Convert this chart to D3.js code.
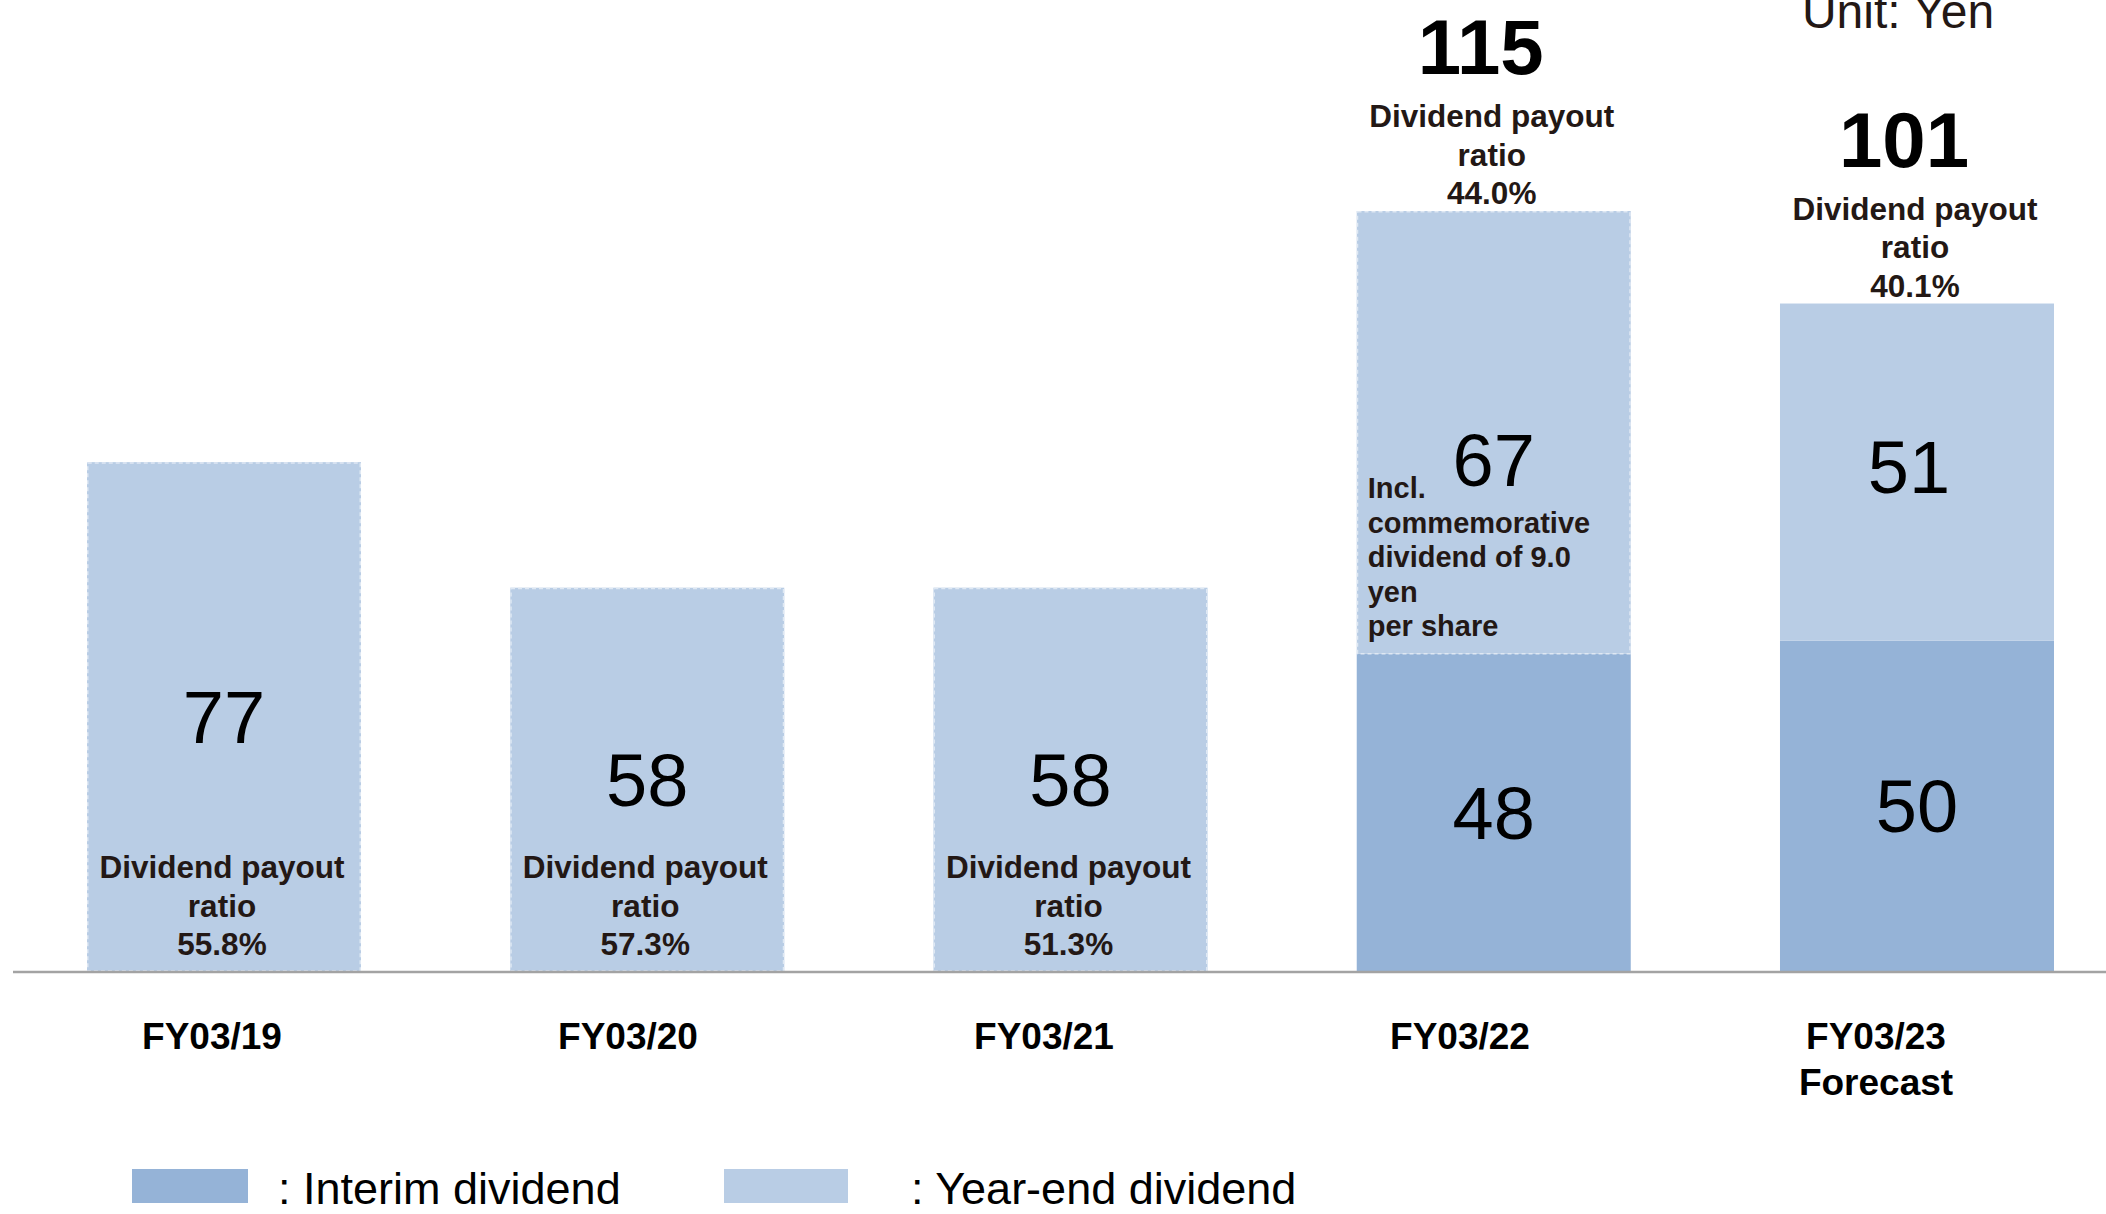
<!DOCTYPE html>
<html>
<head>
<meta charset="utf-8">
<script src="https://cdn.jsdelivr.net/npm/d3@7"></script>
<style>
  html, body { margin: 0; padding: 0; background: #ffffff; }
  svg { display: block; }
  text { font-family: "Liberation Sans", Arial, Helvetica, sans-serif; }
</style>
</head>
<body>
<svg id="chart" width="2106" height="1214"></svg>
<script>
// Dividend per share (yen), by fiscal year
const categories = ["FY03/19", "FY03/20", "FY03/21", "FY03/22", "FY03/23"];
const categoryLines = [["FY03/19"], ["FY03/20"], ["FY03/21"], ["FY03/22"], ["FY03/23", "Forecast"]];
const interimDividend = [0, 0, 0, 48, 50];
const yearEndDividend = [77, 58, 58, 67, 51];
const payoutRatio = ["55.8%", "57.3%", "51.3%", "44.0%", "40.1%"];
const isForecast = [false, false, false, false, true];
const commemorativeNote = ["Incl.", "commemorative", "dividend of 9.0", "yen", "per share"];
const noteIndex = 3;
const legendItems = [": Interim dividend", ": Year-end dividend"];
const unitLabel = "Unit: Yen";

const COLOR_INTERIM = "#95b3d7";
const COLOR_YEAREND = "#b9cde5";
const INK = "#231815";

const totals = categories.map((c, i) => interimDividend[i] + yearEndDividend[i]);

const svg = d3.select("#chart");

const x = d3.scaleBand()
  .domain(categories)
  .range([87, 2054])
  .paddingInner(0.3526)
  .paddingOuter(0);

const y = d3.scaleLinear()
  .domain([0, d3.max(totals)])
  .range([971, 211]);

// category labels sit on their own, slightly tighter, spacing
const xLabel = d3.scalePoint()
  .domain(categories)
  .range([212, 1876]);

// stacked segments
const segments = [];
categories.forEach((c, i) => {
  if (interimDividend[i] > 0) {
    segments.push({ i, c, kind: "interim", y0: 0, y1: interimDividend[i], v: interimDividend[i] });
  }
  segments.push({ i, c, kind: "yearEnd", y0: interimDividend[i], y1: totals[i], v: yearEndDividend[i] });
});

const gBars = svg.append("g");
gBars.selectAll("rect")
  .data(segments)
  .join("rect")
  .attr("x", d => x(d.c))
  .attr("width", x.bandwidth())
  .attr("y", d => y(d.y1))
  .attr("height", d => y(d.y0) - y(d.y1))
  .attr("fill", d => d.kind === "interim" ? COLOR_INTERIM : COLOR_YEAREND);

// dashed outline on the year-end segments of actual results
gBars.selectAll("rect.outline")
  .data(segments.filter(d => d.kind === "yearEnd" && !isForecast[d.i]))
  .join("rect")
  .attr("class", "outline")
  .attr("x", d => x(d.c) + 0.75)
  .attr("width", x.bandwidth() - 1.5)
  .attr("y", d => y(d.y1) + 0.75)
  .attr("height", d => y(d.y0) - y(d.y1) - 0.75)
  .attr("fill", "none")
  .attr("stroke", "#dfe8f3")
  .attr("stroke-width", 1.5)
  .attr("stroke-dasharray", "4 3");

// baseline
svg.append("line")
  .attr("x1", 13).attr("x2", 2106)
  .attr("y1", y(0) + 1).attr("y2", y(0) + 1)
  .attr("stroke", "#a3a3a3")
  .attr("stroke-width", 2.5);

// segment values
const VALUE_SIZE = 74;
svg.append("g").selectAll("text")
  .data(segments)
  .join("text")
  .attr("x", d => x(d.c) + x.bandwidth() / 2 - (isForecast[d.i] && d.kind === "yearEnd" ? 8 : 0))
  .attr("y", d => {
    const mid = (y(d.y0) + y(d.y1)) / 2 + VALUE_SIZE * 0.358;
    if (d.kind === "yearEnd" && d.i === noteIndex) return mid + 27;
    if (d.kind === "yearEnd" && isForecast[d.i]) return mid - 6;
    return mid;
  })
  .attr("text-anchor", "middle")
  .attr("font-size", VALUE_SIZE)
  .attr("fill", "#000")
  .text(d => d.v);

// totals above stacked bars
const TOTAL_SIZE = 78;
svg.append("g").selectAll("text")
  .data(categories.filter((c, i) => interimDividend[i] > 0))
  .join("text")
  .attr("x", c => x(c) + x.bandwidth() / 2 - 13)
  .attr("y", c => y(totals[categories.indexOf(c)]) - 137)
  .attr("text-anchor", "middle")
  .attr("font-size", TOTAL_SIZE)
  .attr("font-weight", "bold")
  .attr("fill", "#000")
  .text(c => totals[categories.indexOf(c)]);

// payout ratio blocks
const PAYOUT_SIZE = 31.5;
const PAYOUT_LEAD = 38.5;
categories.forEach((c, i) => {
  const lines = ["Dividend payout", "ratio", payoutRatio[i]];
  const cx = x(c) + x.bandwidth() / 2;
  let lastBase;
  if (interimDividend[i] > 0) {
    lastBase = y(totals[i]) - 7;       // above the stacked bar
  } else {
    lastBase = y(0) - 16;              // inside the bar, near its foot
  }
  svg.append("g").selectAll("text")
    .data(lines)
    .join("text")
    .attr("x", cx - 2)
    .attr("y", (d, k) => lastBase - (lines.length - 1 - k) * PAYOUT_LEAD)
    .attr("text-anchor", "middle")
    .attr("font-size", PAYOUT_SIZE)
    .attr("font-weight", "bold")
    .attr("fill", INK)
    .text(d => d);
});

// note on the commemorative dividend
svg.append("g").selectAll("text")
  .data(commemorativeNote)
  .join("text")
  .attr("x", x(categories[noteIndex]) + 11)
  .attr("y", (d, k) => 498 + k * 34.5)
  .attr("font-size", 29)
  .attr("font-weight", "bold")
  .attr("fill", INK)
  .text(d => d);

// category axis labels
const gCat = svg.append("g");
categories.forEach((c, i) => {
  gCat.append("g").selectAll("text")
    .data(categoryLines[i])
    .join("text")
    .attr("x", xLabel(c))
    .attr("y", (d, k) => 1049 + k * 46)
    .attr("text-anchor", "middle")
    .attr("font-size", 37)
    .attr("font-weight", "bold")
    .attr("fill", "#000")
    .text(d => d);
});

// unit, running off the top edge of the canvas
svg.append("text")
  .attr("x", 1898)
  .attr("y", 28)
  .attr("text-anchor", "middle")
  .attr("font-size", 48)
  .attr("fill", INK)
  .text(unitLabel);

// legend
const legendSwatch = [
  { x: 132, w: 116, color: COLOR_INTERIM, tx: 278 },
  { x: 724, w: 124, color: COLOR_YEAREND, tx: 911 }
];
const gLeg = svg.append("g");
gLeg.selectAll("rect")
  .data(legendItems)
  .join("rect")
  .attr("x", (d, k) => legendSwatch[k].x)
  .attr("y", 1169)
  .attr("width", (d, k) => legendSwatch[k].w)
  .attr("height", 34)
  .attr("fill", (d, k) => legendSwatch[k].color);
gLeg.selectAll("text")
  .data(legendItems)
  .join("text")
  .attr("x", (d, k) => legendSwatch[k].tx)
  .attr("y", 1204)
  .attr("font-size", 45)
  .attr("fill", "#000")
  .text(d => d);
</script>
</body>
</html>
